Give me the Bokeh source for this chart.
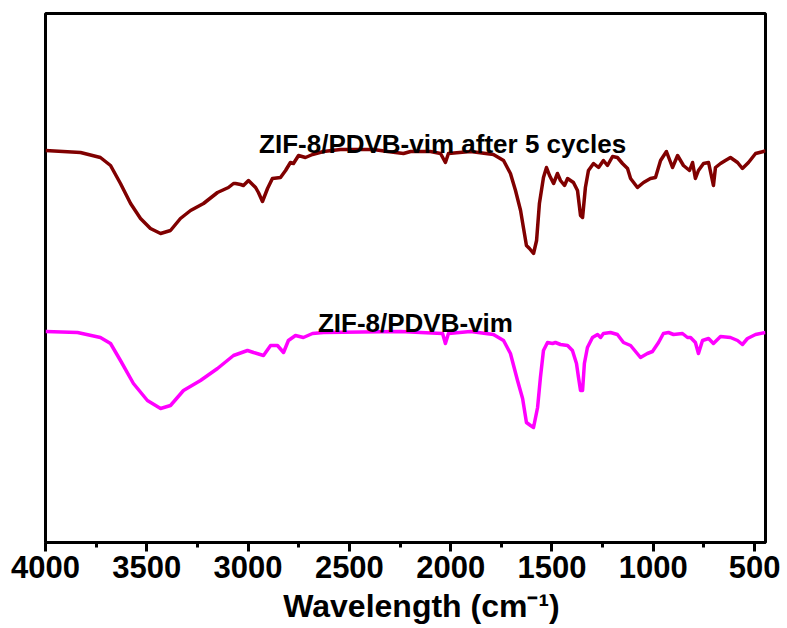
from bokeh.plotting import figure
from bokeh.models import Range1d, FixedTicker, Label
from bokeh.embed import file_html
from bokeh.resources import INLINE

# FTIR spectra: wavenumber (cm^-1) and transmittance (a.u., curves offset)
wn_cycled = [4000, 3827, 3729, 3679, 3630, 3580, 3531, 3482, 3432, 3383, 3334, 3284,
             3220, 3151, 3097, 3072, 3062, 3037, 3023, 2998, 2963, 2949, 2929, 2904,
             2880, 2840, 2815, 2791, 2776, 2751, 2717, 2682, 2628, 2544, 2381, 2312,
             2233, 2198, 2149, 2100, 2050, 2026, 2011, 1902, 1789, 1739, 1705, 1680,
             1655, 1641, 1626, 1611, 1591, 1576, 1562, 1542, 1527, 1512, 1492, 1473,
             1458, 1438, 1423, 1394, 1374, 1359, 1349, 1335, 1320, 1295, 1270, 1246,
             1226, 1201, 1177, 1152, 1127, 1112, 1078, 1048, 1014, 989, 964, 935, 905,
             880, 851, 821, 806, 792, 777, 752, 727, 703, 693, 668, 644, 619, 584, 560,
             530, 495, 456, 446]
t_cycled = [392, 390, 385, 377, 359, 339, 324, 314, 309, 312, 324, 332,
            339, 350, 355, 359, 359, 358, 357, 362, 355, 350, 341, 354,
            364, 365, 372, 380, 379, 387, 385, 388, 391, 393, 393, 391,
            389, 391, 391, 391, 389, 380, 389, 391, 388, 382, 369, 352,
            332, 315, 297, 294, 289, 302, 339, 365, 375, 367, 359, 369,
            362, 357, 364, 360, 352, 327, 325, 355, 372, 379, 375, 382,
            377, 386, 385, 379, 374, 364, 355, 360, 364, 365, 382, 391, 375,
            387, 377, 372, 380, 364, 372, 379, 380, 357, 375, 379, 382, 385, 380, 374,
            380, 389, 391, 392]

wn_fresh = [4000, 3842, 3729, 3679, 3630, 3566, 3497, 3432, 3383, 3319, 3235, 3151,
            3072, 3003, 2973, 2924, 2889, 2855, 2825, 2801, 2766, 2727, 2682, 2628,
            2248, 2149, 2040, 2026, 2011, 1902, 1789, 1739, 1705, 1670, 1645, 1626,
            1606, 1591, 1571, 1557, 1542, 1522, 1497, 1483, 1458, 1423, 1399, 1379,
            1369, 1359, 1349, 1340, 1325, 1300, 1275, 1260, 1246, 1211, 1177, 1147,
            1112, 1063, 1029, 1004, 974, 950, 925, 900, 856, 831, 816, 792, 777, 757,
            727, 703, 683, 668, 619, 584, 560, 535, 495, 446]
t_fresh = [211, 210, 205, 199, 182, 159, 142, 134, 137, 152, 162, 174,
           187, 192, 190, 187, 197, 197, 190, 202, 207, 205, 209, 210,
           211, 210, 209, 199, 209, 211, 208, 202, 189, 162, 144, 120,
           117, 115, 135, 165, 192, 200, 199, 200, 198, 197, 192, 179,
           165, 152, 152, 179, 195, 205, 208, 205, 209, 210, 208, 200,
           197, 185, 189, 191, 200, 209, 210, 208, 209, 205, 205, 200, 189, 202,
           204, 199, 203, 206, 205, 202, 198, 204, 208, 210]

major_ticks = [4000, 3500, 3000, 2500, 2000, 1500, 1000, 500]
minor_ticks = [3750, 3250, 2750, 2250, 1750, 1250, 750]

FONT = "Liberation Sans"

p = figure(width=787, height=628, output_backend="svg", toolbar_location=None,
           x_range=Range1d(4000, 446), y_range=Range1d(0, 529),
           y_axis_location=None, min_border_left=45, min_border_right=22,
           min_border_top=13, min_border_bottom=86)
p.grid.visible = False
p.background_fill_color = "white"
p.border_fill_color = "white"
p.outline_line_color = "black"
p.outline_line_width = 3

ax = p.xaxis[0]
ax.ticker = FixedTicker(ticks=major_ticks, minor_ticks=minor_ticks)
ax.axis_line_width = 3
ax.major_tick_line_width = 3
ax.minor_tick_line_width = 3
ax.major_tick_in = 0
ax.major_tick_out = 9
ax.minor_tick_in = 0
ax.minor_tick_out = 5
ax.major_label_text_font = FONT
ax.major_label_text_font_style = "bold"
ax.major_label_text_font_size = "31px"
ax.major_label_text_color = "black"
ax.major_label_standoff = 4
# leading en spaces nudge the centred title a little to the right
ax.axis_label = "\u2002\u2002Wavelength (cm\u207b\u00b9)"
ax.axis_label_text_font = FONT
ax.axis_label_text_font_style = "bold"
ax.axis_label_text_font_size = "32px"
ax.axis_label_text_color = "black"
ax.axis_label_standoff = 7

p.line(wn_cycled, t_cycled, line_color="#800000", line_width=3.5, line_join="round")
p.line(wn_fresh, t_fresh, line_color="#ff00ff", line_width=3.5, line_join="round")

p.add_layout(Label(x=2040, y=399, text="ZIF-8/PDVB-vim after 5 cycles",
                   text_align="center", text_baseline="alphabetic", text_color="black",
                   text_font=FONT, text_font_style="bold", text_font_size="26px"))
p.add_layout(Label(x=2174, y=220, text="ZIF-8/PDVB-vim",
                   text_align="center", text_baseline="alphabetic", text_color="black",
                   text_font=FONT, text_font_style="bold", text_font_size="26px"))

open("out.html", "w").write(file_html(p, INLINE))
